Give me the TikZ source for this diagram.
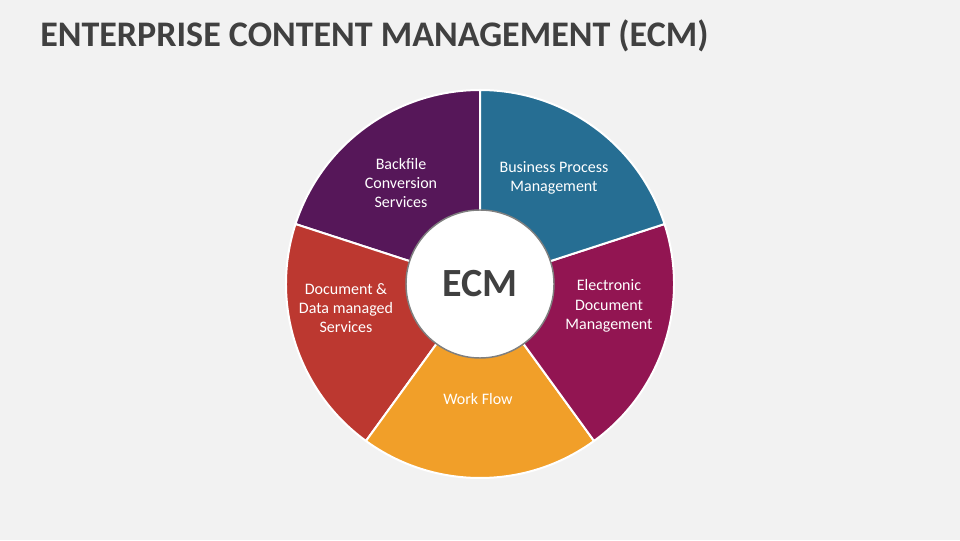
\documentclass[tikz,border=0pt]{standalone}
\usepackage{fontspec}
\setmainfont{Carlito}
\usepackage{tikz}
\usetikzlibrary{positioning}
\definecolor{slidebg}{HTML}{F2F2F2}
\definecolor{titlegray}{HTML}{404040}
\definecolor{ringgray}{HTML}{7F7F7F}
\definecolor{bpmblue}{HTML}{266E93}
\definecolor{edmmagenta}{HTML}{921552}
\definecolor{floworange}{HTML}{F19F29}
\definecolor{docred}{HTML}{BC3830}
\definecolor{backpurple}{HTML}{561759}

\begin{document}
\begin{tikzpicture}[
  x=0.75pt, y=0.75pt,
  slice/.style={draw=white, line width=1.5pt},
  seglabel/.style={text=white, align=center, font=\fontsize{12}{14.4}\selectfont},
  hub/.style={circle, fill=white, draw=ringgray, line width=1.1pt, minimum size=111pt, inner sep=0pt, text=titlegray, font=\bfseries\fontsize{30}{36}\selectfont},
]
  \fill[slidebg] (0,0) rectangle (960,540);
  \node[anchor=base west, text=titlegray, font=\bfseries\fontsize{27}{32}\selectfont, inner sep=0pt] (title) at (40,493) {ENTERPRISE CONTENT MANAGEMENT (ECM)};

  \coordinate (c) at (480,256);
  \fill[backpurple, slice] (c) -- ++(90:145.5pt) arc[start angle=90, end angle=162, radius=145.5pt] -- cycle;
  \fill[docred, slice] (c) -- ++(162:145.5pt) arc[start angle=162, end angle=234, radius=145.5pt] -- cycle;
  \fill[floworange, slice] (c) -- ++(234:145.5pt) arc[start angle=234, end angle=306, radius=145.5pt] -- cycle;
  \fill[edmmagenta, slice] (c) -- ++(306:145.5pt) arc[start angle=306, end angle=378, radius=145.5pt] -- cycle;
  \fill[bpmblue, slice] (c) -- ++(18:145.5pt) arc[start angle=18, end angle=90, radius=145.5pt] -- cycle;

  \node[hub] (ecm) at (c) {ECM};

  \node[seglabel] (backfile) at (401,357) {Backfile\\Conversion\\Services};
  \node[seglabel] (bpm) at (554,362) {Business Process\\Management};
  \node[seglabel] (edm) at (609,234) {Electronic\\Document\\Management};
  \node[seglabel] (workflow) at (478,141) {Work Flow};
  \node[seglabel] (docdata) at (346,232) {Document \&\\Data managed\\Services};
\end{tikzpicture}
\end{document}
